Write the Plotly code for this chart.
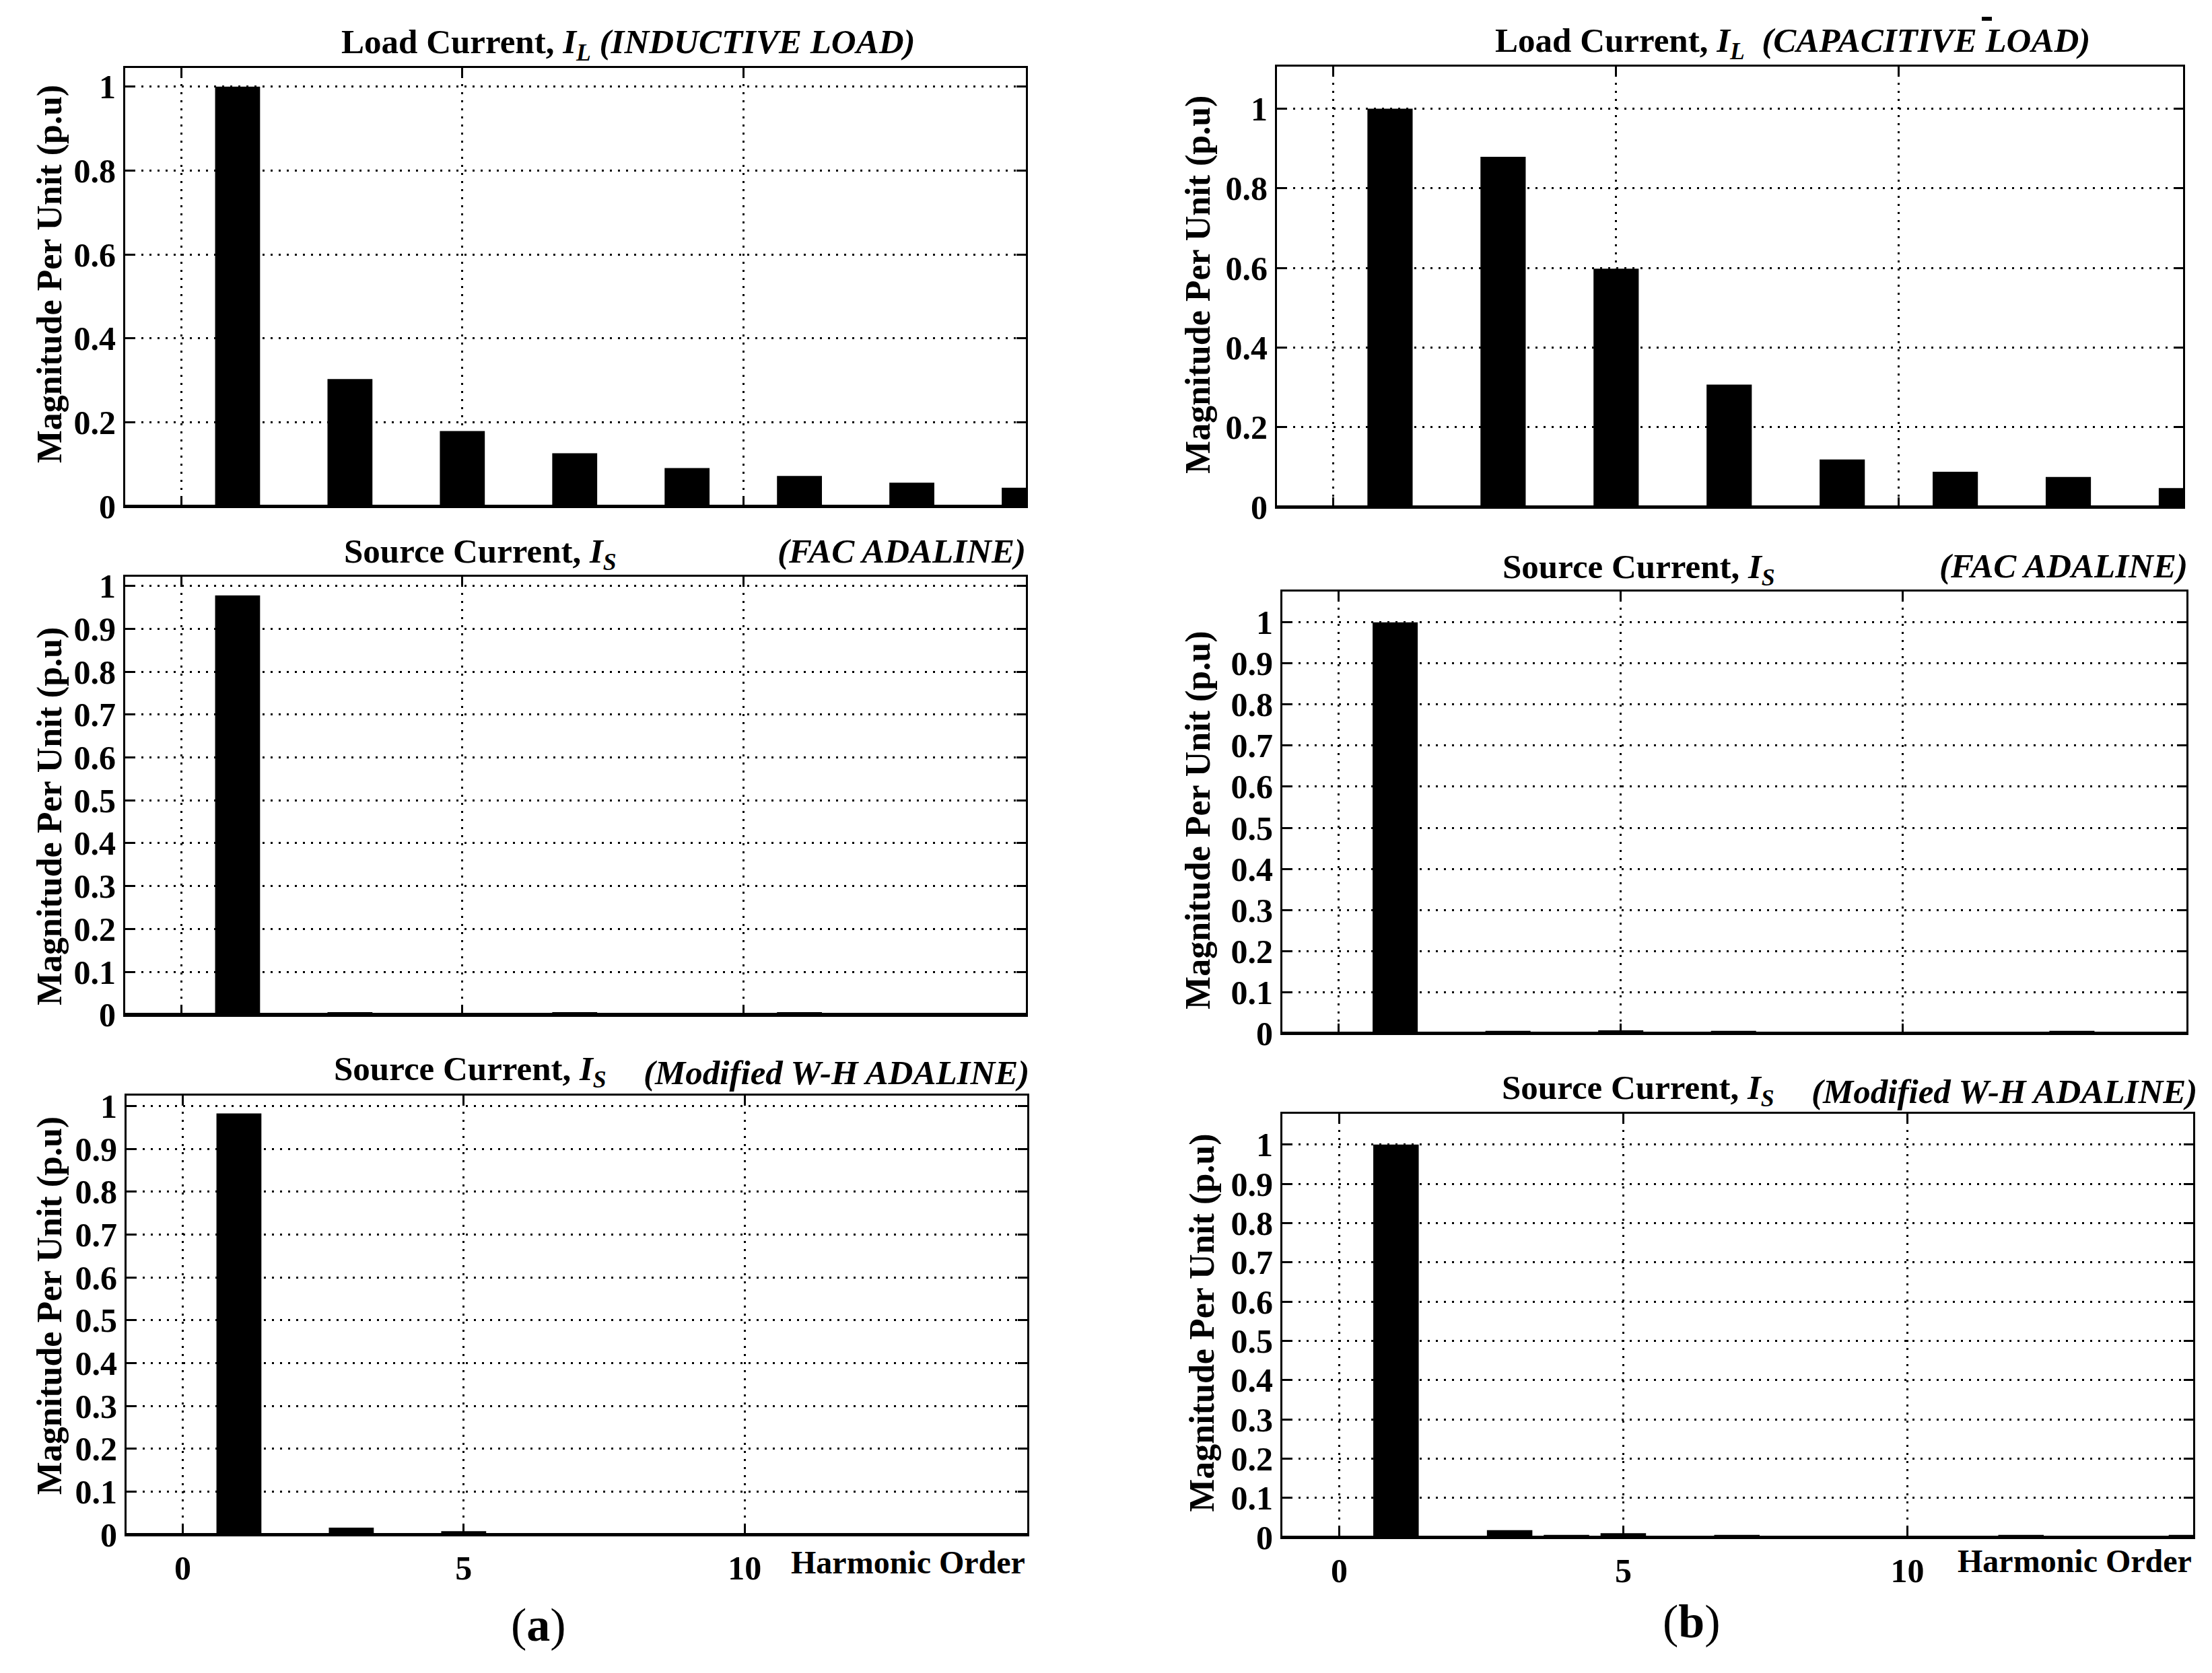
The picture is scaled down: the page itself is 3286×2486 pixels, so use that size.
import plotly.graph_objects as go

W, H = 3286, 2486

# ---------------- data ----------------
harmonic_order = list(range(16))

il_inductive = [0, 1.0, 0, 0.303, 0, 0.179, 0, 0.126, 0, 0.091, 0, 0.072, 0, 0.056, 0, 0.044]
is_fac_inductive = [0.003, 0.978, 0.002, 0.006, 0.002, 0.003, 0.002, 0.006, 0.002, 0.003,
                    0.003, 0.006, 0.003, 0.003, 0.003, 0.003]
is_wh_inductive = [0.003, 0.983, 0.003, 0.016, 0.003, 0.008, 0.003, 0.003, 0.003, 0.003,
                   0.003, 0.003, 0.003, 0.003, 0.003, 0.003]

il_capacitive = [0, 1.0, 0, 0.879, 0, 0.598, 0, 0.307, 0, 0.119, 0, 0.088, 0, 0.075, 0, 0.047]
is_fac_capacitive = [0.003, 1.0, 0.003, 0.006, 0.003, 0.007, 0.003, 0.006, 0.003, 0.003,
                     0.003, 0.003, 0.003, 0.006, 0.003, 0.003]
is_wh_capacitive = [0.003, 1.0, 0.003, 0.018, 0.006, 0.010, 0.003, 0.006, 0.003, 0.003,
                    0.003, 0.003, 0.006, 0.003, 0.003, 0.006]

x_tick_vals = [0, 5, 10]
y_ticks_fine = [0, 0.1, 0.2, 0.3, 0.4, 0.5, 0.6, 0.7, 0.8, 0.9, 1]
y_ticks_coarse = [0, 0.2, 0.4, 0.6, 0.8, 1]

# ---------------- layout of the six panels (pixel boxes) ----------------
FONT = "Liberation Serif"
panels = [
    dict(y=il_inductive,      box=(178, 1516, 80, 743),    ymax=1.045, ticks=y_ticks_coarse, bottom=False),
    dict(y=is_fac_inductive,  box=(178, 1516, 850, 1512),  ymax=1.021, ticks=y_ticks_fine,   bottom=False),
    dict(y=is_wh_inductive,   box=(180, 1518, 1634, 2298), ymax=1.025, ticks=y_ticks_fine,   bottom=True),
    dict(y=il_capacitive,     box=(1889, 3235, 78, 744),   ymax=1.106, ticks=y_ticks_coarse, bottom=False),
    dict(y=is_fac_capacitive, box=(1897, 3240, 872, 1540), ymax=1.075, ticks=y_ticks_fine,   bottom=False),
    dict(y=is_wh_capacitive,  box=(1897, 3250, 1662, 2302), ymax=1.078, ticks=y_ticks_fine,  bottom=True),
]

fig = go.Figure()
layout = dict(
    width=W, height=H,
    margin=dict(l=0, r=0, t=0, b=0),
    paper_bgcolor="white", plot_bgcolor="white",
    showlegend=False,
    font=dict(family=FONT, color="black"),
)

tickfont = dict(family=FONT, size=50, color="black", weight="bold")

for i, p in enumerate(panels, start=1):
    l, r, t, b = p["box"]
    xa = "xaxis" if i == 1 else f"xaxis{i}"
    ya = "yaxis" if i == 1 else f"yaxis{i}"
    xr = "x" if i == 1 else f"x{i}"
    yr = "y" if i == 1 else f"y{i}"
    fig.add_trace(go.Bar(x=harmonic_order, y=p["y"], width=0.8,
                         marker=dict(color="black", line=dict(width=0)),
                         xaxis=xr, yaxis=yr, hoverinfo="skip"))
    layout[xa] = dict(
        domain=[l / W, r / W], anchor=yr, range=[-1, 15.03],
        tickmode="array", tickvals=x_tick_vals,
        ticks="inside", ticklen=14, tickwidth=3, tickcolor="black",
        showline=True, linecolor="black", linewidth=3, mirror="allticks",
        showgrid=True, gridcolor="black", griddash="3px,9px", gridwidth=2.5,
        zeroline=False, showticklabels=p["bottom"], tickfont=tickfont,
        ticklabelstandoff=4, fixedrange=True,
    )
    layout[ya] = dict(
        domain=[1 - b / H, 1 - t / H], anchor=xr, range=[0, p["ymax"]],
        tickmode="array", tickvals=p["ticks"],
        ticks="inside", ticklen=14, tickwidth=3, tickcolor="black",
        showline=True, linecolor="black", linewidth=3, mirror="allticks",
        showgrid=True, gridcolor="black", griddash="3px,9px", gridwidth=2.5,
        zeroline=True, zerolinecolor="black", zerolinewidth=5,
        tickfont=tickfont, ticklabelstandoff=1, fixedrange=True,
    )

fig.update_layout(**layout)


def ann(text, x, y, size, xanchor="center", angle=0, weight="bold"):
    fig.add_annotation(text=text, x=x / W, y=1 - y / H, xref="paper", yref="paper",
                       xanchor=xanchor, yanchor="middle", showarrow=False, textangle=angle,
                       font=dict(family=FONT, size=size, color="black", weight=weight))


TS = 51
# panel titles
ann("Load Current, <i>I<sub>L</sub></i> <i>(INDUCTIVE LOAD)</i>", 925, 45, TS)
ann("Load Current, <i>I<sub>L</sub></i>  <i>(CAPACITIVE LOAD)</i>", 2655, 43, TS)
ann("Source Current, <i>I<sub>S</sub></i>", 705, 815, TS)
ann("<i>(FAC ADALINE)</i>", 1518, 811, TS, xanchor="right")
ann("Source Current, <i>I<sub>S</sub></i>", 690, 1598, TS)
ann("<i>(Modified W-H ADALINE)</i>", 1523, 1600, TS, xanchor="right")
ann("Source Current, <i>I<sub>S</sub></i>", 2426, 838, TS)
ann("<i>(FAC ADALINE)</i>", 3244, 833, TS, xanchor="right")
ann("Source Current, <i>I<sub>S</sub></i>", 2425, 1626, TS)
ann("<i>(Modified W-H ADALINE)</i>", 3258, 1628, TS, xanchor="right")

# y axis titles
YT = "Magnitude Per Unit (p.u)"
for (x, y) in [(66, 392), (66, 1212), (66, 1952), (1772, 408), (1772, 1218), (1778, 1978)]:
    ann(YT, x, y, 52, angle=-90)

# x axis label
ann("Harmonic Order", 1517, 2340, 48, xanchor="right")
ann("Harmonic Order", 3250, 2338, 48, xanchor="right")

# sub-figure labels
ann("(<b>a</b>)", 792, 2435, 70, weight="normal")
ann("(<b>b</b>)", 2505, 2430, 70, weight="normal")

# small stray mark above the capacitive title
fig.add_shape(type="rect", xref="paper", yref="paper",
              x0=2936 / W, x1=2951 / W, y0=1 - 9 / H, y1=1 - 3 / H,
              fillcolor="black", line=dict(width=0))

fig.write_html("out.html")
